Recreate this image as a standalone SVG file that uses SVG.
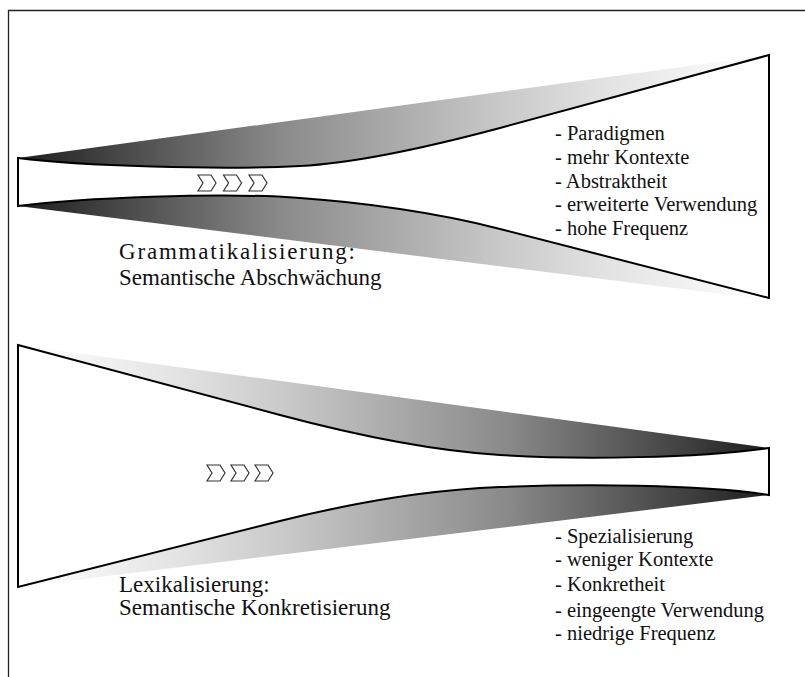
<svg xmlns="http://www.w3.org/2000/svg" width="805" height="677" viewBox="0 0 805 677">
<defs>
<style>
.out{fill:none;stroke:#000;stroke-width:2;stroke-linejoin:miter}
.frame{fill:none;stroke:#222;stroke-width:1.3}
.chev{fill:#fff;stroke:#333;stroke-width:1.2;stroke-linejoin:miter}
text{font-family:"Liberation Serif",serif;fill:#111}
</style>
<linearGradient id="gTop" gradientUnits="userSpaceOnUse" x1="18" y1="0" x2="769" y2="0">
<stop offset="0" stop-color="#1e1e1e"/>
<stop offset="0.35" stop-color="#8a8a8a"/>
<stop offset="0.64" stop-color="#c8c8c8"/>
<stop offset="0.78" stop-color="#e2e2e2"/>
<stop offset="0.94" stop-color="#f8f8f8"/>
<stop offset="1" stop-color="#ffffff"/>
</linearGradient>
<linearGradient id="gBot" gradientUnits="userSpaceOnUse" x1="18" y1="0" x2="769" y2="0">
<stop offset="0" stop-color="#ffffff"/>
<stop offset="0.06" stop-color="#f8f8f8"/>
<stop offset="0.22" stop-color="#e2e2e2"/>
<stop offset="0.36" stop-color="#c8c8c8"/>
<stop offset="0.65" stop-color="#8a8a8a"/>
<stop offset="1" stop-color="#1e1e1e"/>
</linearGradient>
<polygon id="chevron" class="chev" points="0,0 13,0 18,8 13,16 0,16 5,8"/>
</defs>

<g id="frame">
<path class="frame" d="M8.5,677 L8.5,10.5 L805,10.5"/>
</g>

<g id="funnel-top">
<path fill="url(#gTop)" d="M18,158 L769,55 L500,128 C440,144 360,163 300,166 C220,170 80,166 18,158 Z"/>
<path fill="url(#gTop)" d="M18,206 L769,300 L500,229 C440,213 360,202 300,198 C220,192 80,198 18,206 Z"/>
<path class="out" d="M18,158 C80,166 220,170 300,166 C360,163 440,144 500,128 L769,55 L769,298 L500,229 C440,213 360,202 300,198 C220,192 80,198 18,206 Z"/>
<g id="chevrons-top">
<use href="#chevron" x="198" y="175"/>
<use href="#chevron" x="223.5" y="175"/>
<use href="#chevron" x="249" y="175"/>
</g>
</g>

<g id="funnel-bottom">
<path fill="url(#gBot)" d="M18,345 L769,448 C700,458 580,460 500,455 C420,450 340,431 280,415 Z"/>
<path fill="url(#gBot)" d="M18,587 L769,495 C700,484 580,484 500,487 C420,490 340,506 280,521 Z"/>
<path class="out" d="M18,345 L280,415 C340,431 420,450 500,455 C580,460 700,458 769,448 L769,495 C700,484 580,484 500,487 C420,490 340,506 280,521 L18,587 Z"/>
<g id="chevrons-bottom">
<use href="#chevron" x="207" y="465"/>
<use href="#chevron" x="231" y="465"/>
<use href="#chevron" x="255" y="465"/>
</g>
</g>

<g id="label-top" font-size="23">
<text x="119" y="259" textLength="236" lengthAdjust="spacing">Grammatikalisierung:</text>
<text x="119" y="285">Semantische Abschwächung</text>
</g>
<g id="list-top" font-size="20.5">
<text x="555" y="140">- Paradigmen</text>
<text x="555" y="164">- mehr Kontexte</text>
<text x="555" y="187.5">- Abstraktheit</text>
<text x="555" y="211">- erweiterte Verwendung</text>
<text x="555" y="234.5">- hohe Frequenz</text>
</g>

<g id="label-bottom" font-size="23">
<text x="119" y="592">Lexikalisierung:</text>
<text x="119" y="615">Semantische Konkretisierung</text>
</g>
<g id="list-bottom" font-size="20.5">
<text x="555" y="543">- Spezialisierung</text>
<text x="555" y="566">- weniger Kontexte</text>
<text x="555" y="591">- Konkretheit</text>
<text x="555" y="617">- eingeengte Verwendung</text>
<text x="555" y="640">- niedrige Frequenz</text>
</g>
</svg>
